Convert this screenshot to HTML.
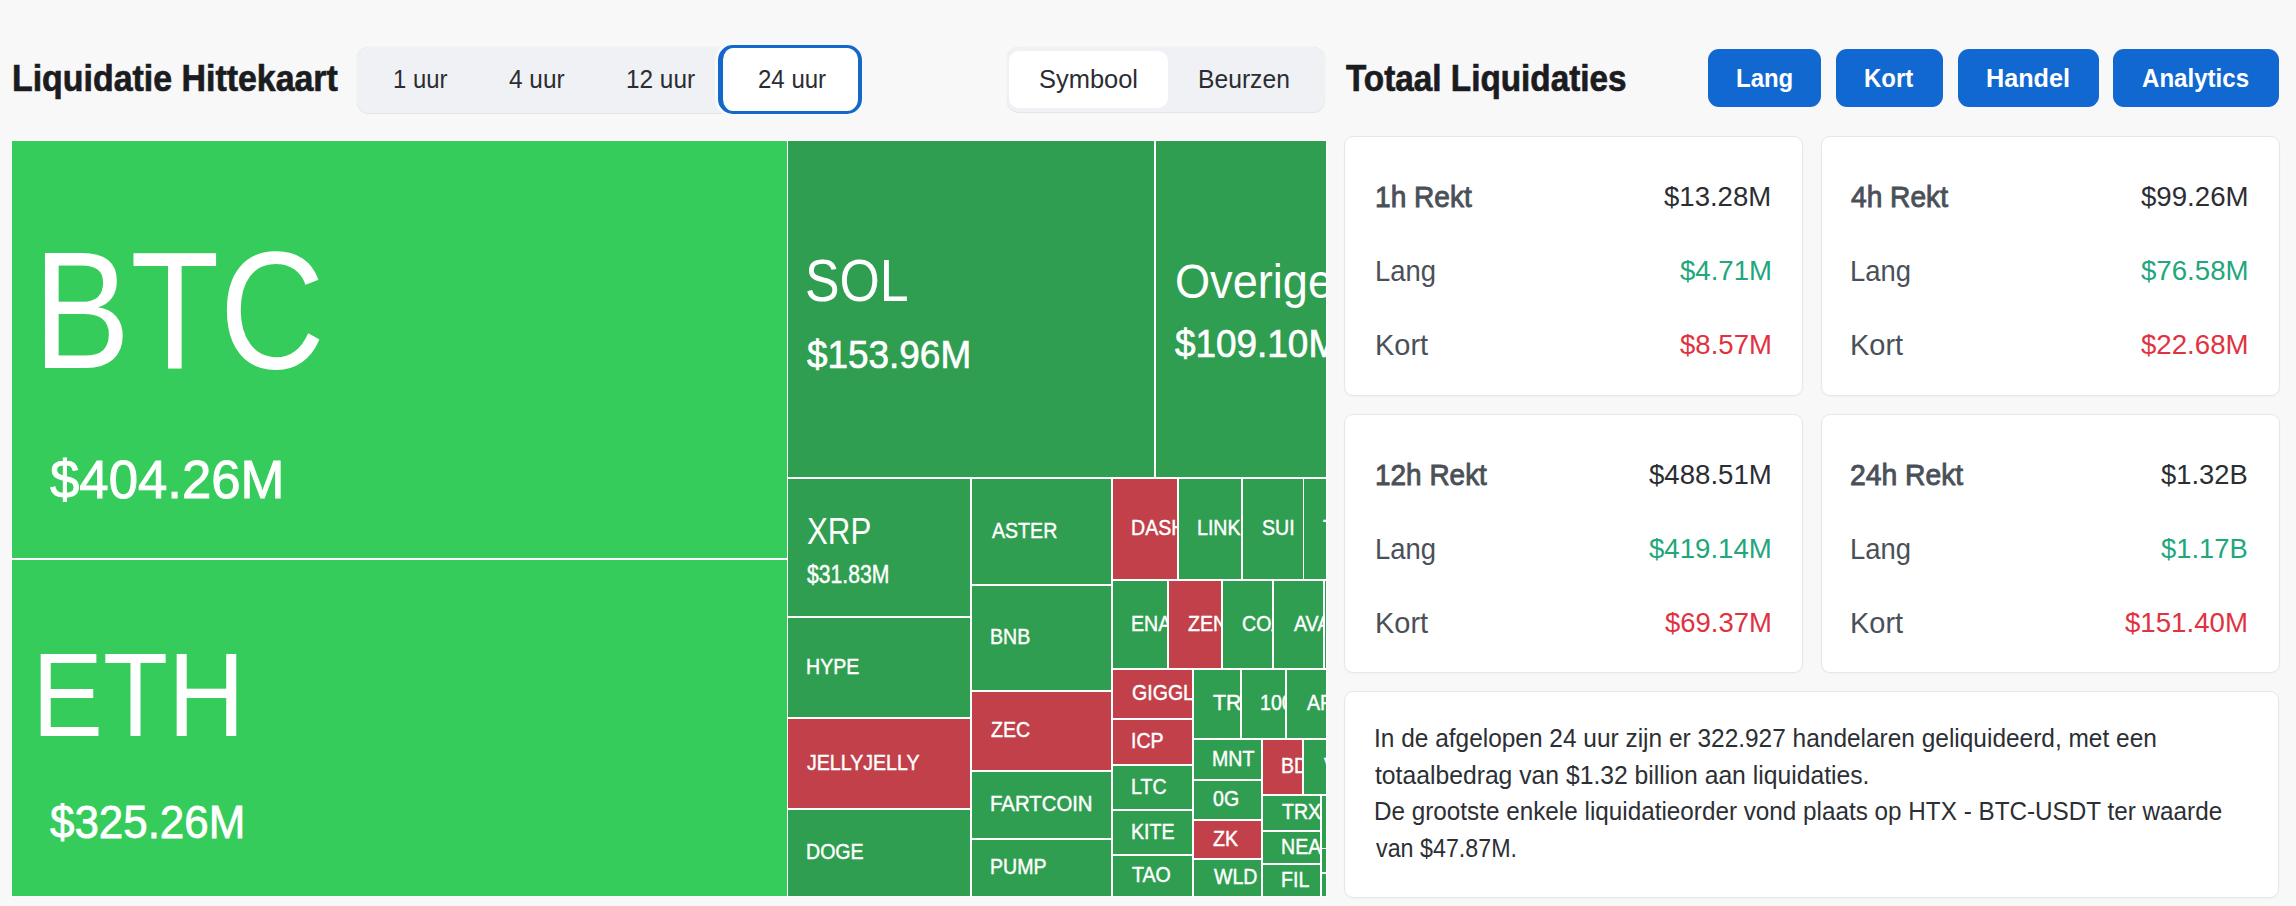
<!DOCTYPE html>
<html lang="nl">
<head>
<meta charset="utf-8">
<title>Liquidatie Hittekaart</title>
<style>
html,body{margin:0;padding:0}
body{width:2296px;height:906px;overflow:hidden;background:#f8f8f9;position:relative;font-family:'Liberation Sans',Arial,sans-serif}
.t{position:absolute;white-space:nowrap;line-height:1;transform-origin:0 0}
.seg{position:absolute;background:#f0f1f5;border-radius:12px;box-shadow:0 1px 0 #e3e4e7,0 0 1px rgba(0,0,0,.14)}
.tab-active{position:absolute;box-sizing:border-box;border:solid #1468c9;border-width:3px 4px 3px 5px;border-radius:15px;background:#fff;box-shadow:0 0 0 3px #f8f9fb}
.seg-on{position:absolute;background:#fff;border-radius:10px}
.btn{position:absolute;background:#1068d0;border-radius:11px}
.tm{position:absolute;left:11px;top:140px;width:1316px;height:757px;background:#fff}
.c{position:absolute;overflow:hidden}
.card{position:absolute;box-sizing:border-box;background:#fff;border:1px solid #e6e7ea;border-radius:9px;box-shadow:0 1px 2px rgba(0,0,0,.03)}
.h{margin:0;font-size:inherit;font-weight:inherit}
</style>
</head>
<body>
<!-- left header -->
<header class="hdr-left">
<h1 class="h"><span class="t" style="left:11.60px;top:60.41px;font-size:37.5px;font-weight:700;color:#1b1c1f;transform:scaleX(0.9039);-webkit-text-stroke:0.7px #1b1c1f;">Liquidatie Hittekaart</span></h1>
<div class="seg" style="left:357px;top:47px;width:505px;height:66px"><span class="t" style="left:35.70px;top:18.96px;font-size:26.5px;font-weight:400;color:#2a2d33;transform:scaleX(0.9000);">1 uur</span><span class="t" style="left:152.10px;top:18.96px;font-size:26.5px;font-weight:400;color:#2a2d33;transform:scaleX(0.9197);">4 uur</span><span class="t" style="left:269.08px;top:18.96px;font-size:26.5px;font-weight:400;color:#2a2d33;transform:scaleX(0.9187);">12 uur</span>
<div class="tab-active" style="left:361px;top:-2px;width:144px;height:69px"><span class="t" style="left:34.60px;top:17.96px;font-size:26.5px;font-weight:400;color:#2a2d33;transform:scaleX(0.9066);">24 uur</span></div>
</div>
<div class="seg" style="left:1007px;top:47px;width:318px;height:65px">
<div class="seg-on" style="left:2px;top:4px;width:159px;height:57px"><span class="t" style="left:30.24px;top:14.96px;font-size:26.5px;font-weight:400;color:#2a2d33;transform:scaleX(0.9604);">Symbool</span></div><span class="t" style="left:191.47px;top:18.96px;font-size:26.5px;font-weight:400;color:#2a2d33;transform:scaleX(0.9309);">Beurzen</span>
</div>
</header>
<!-- right header -->
<header class="hdr-right">
<h2 class="h"><span class="t" style="left:1346.09px;top:59.71px;font-size:37.5px;font-weight:700;color:#1b1c1f;transform:scaleX(0.8880);-webkit-text-stroke:0.7px #1b1c1f;">Totaal Liquidaties</span></h2>
<div class="btn" style="left:1708px;top:49px;width:113px;height:58px"><span class="t" style="left:27.98px;top:15.60px;font-size:26px;font-weight:700;color:#ffffff;transform:scaleX(0.9217);">Lang</span></div>
<div class="btn" style="left:1836px;top:49px;width:107px;height:58px"><span class="t" style="left:28.18px;top:15.60px;font-size:26px;font-weight:700;color:#ffffff;transform:scaleX(0.9226);">Kort</span></div>
<div class="btn" style="left:1958px;top:49px;width:141px;height:58px"><span class="t" style="left:28.23px;top:15.60px;font-size:26px;font-weight:700;color:#ffffff;transform:scaleX(0.9694);">Handel</span></div>
<div class="btn" style="left:2113px;top:49px;width:166px;height:58px"><span class="t" style="left:29.00px;top:15.60px;font-size:26px;font-weight:700;color:#ffffff;transform:scaleX(0.9259);">Analytics</span></div>
</header>
<!-- treemap -->
<div class="tm">
<div class="c" style="left:1px;top:1px;width:775px;height:417px;background:#35cc5b"><span class="t" style="left:20.64px;top:86.04px;font-size:167px;font-weight:400;color:#fff;transform:scaleX(0.8737);">BTC</span><span class="t" style="left:38.40px;top:310.87px;font-size:54px;font-weight:400;color:#fff;transform:scaleX(0.9763);-webkit-text-stroke:0.97px #fff;">$404.26M</span></div>
<div class="c" style="left:1px;top:420px;width:775px;height:336px;background:#35cc5b"><span class="t" style="left:19.85px;top:74.87px;font-size:119px;font-weight:400;color:#fff;transform:scaleX(0.8945);">ETH</span><span class="t" style="left:37.70px;top:238.86px;font-size:46px;font-weight:400;color:#fff;transform:scaleX(0.9545);-webkit-text-stroke:0.83px #fff;">$325.26M</span></div>
<div class="c" style="left:777px;top:1px;width:366px;height:336px;background:#2f9e50"><span class="t" style="left:17.27px;top:109.77px;font-size:60px;font-weight:400;color:#fff;transform:scaleX(0.8632);">SOL</span><span class="t" style="left:19.00px;top:194.36px;font-size:39px;font-weight:400;color:#fff;transform:scaleX(0.9462);-webkit-text-stroke:0.70px #fff;">$153.96M</span></div>
<div class="c" style="left:1145px;top:1px;width:170px;height:336px;background:#2f9e50"><span class="t" style="left:18.66px;top:116.66px;font-size:48px;font-weight:400;color:#fff;transform:scaleX(0.9400);">Overige</span><span class="t" style="left:19.20px;top:183.26px;font-size:39px;font-weight:400;color:#fff;transform:scaleX(0.9462);-webkit-text-stroke:0.70px #fff;">$109.10M</span></div>
<div class="c" style="left:777px;top:339px;width:182px;height:137px;background:#2f9e50"><span class="t" style="left:18.70px;top:35.26px;font-size:36px;font-weight:400;color:#fff;transform:scaleX(0.8685);">XRP</span><span class="t" style="left:18.70px;top:82.86px;font-size:25px;font-weight:400;color:#fff;transform:scaleX(0.8458);-webkit-text-stroke:0.45px #fff;">$31.83M</span></div>
<div class="c" style="left:777px;top:478px;width:182px;height:99px;background:#2f9e50"><span class="t" style="left:17.93px;top:37.86px;font-size:22.5px;font-weight:400;color:#fff;transform:scaleX(0.8700);-webkit-text-stroke:0.45px #fff;">HYPE</span></div>
<div class="c" style="left:777px;top:579px;width:182px;height:89px;background:#c1404a"><span class="t" style="left:18.80px;top:32.86px;font-size:22.5px;font-weight:400;color:#fff;transform:scaleX(0.8700);-webkit-text-stroke:0.45px #fff;">JELLYJELLY</span></div>
<div class="c" style="left:777px;top:670px;width:182px;height:86px;background:#2f9e50"><span class="t" style="left:17.93px;top:31.36px;font-size:22.5px;font-weight:400;color:#fff;transform:scaleX(0.8700);-webkit-text-stroke:0.45px #fff;">DOGE</span></div>
<div class="c" style="left:961px;top:339px;width:139px;height:105px;background:#2f9e50"><span class="t" style="left:19.67px;top:40.86px;font-size:22.5px;font-weight:400;color:#fff;transform:scaleX(0.8700);-webkit-text-stroke:0.45px #fff;">ASTER</span></div>
<div class="c" style="left:961px;top:446px;width:139px;height:104px;background:#2f9e50"><span class="t" style="left:17.93px;top:40.36px;font-size:22.5px;font-weight:400;color:#fff;transform:scaleX(0.8700);-webkit-text-stroke:0.45px #fff;">BNB</span></div>
<div class="c" style="left:961px;top:552px;width:139px;height:78px;background:#c1404a"><span class="t" style="left:18.80px;top:27.36px;font-size:22.5px;font-weight:400;color:#fff;transform:scaleX(0.8700);-webkit-text-stroke:0.45px #fff;">ZEC</span></div>
<div class="c" style="left:961px;top:632px;width:139px;height:66px;background:#2f9e50"><span class="t" style="left:17.89px;top:21.36px;font-size:22.5px;font-weight:400;color:#fff;transform:scaleX(0.9050);-webkit-text-stroke:0.45px #fff;">FARTCOIN</span></div>
<div class="c" style="left:961px;top:700px;width:139px;height:56px;background:#2f9e50"><span class="t" style="left:17.93px;top:16.36px;font-size:22.5px;font-weight:400;color:#fff;transform:scaleX(0.8700);-webkit-text-stroke:0.45px #fff;">PUMP</span></div>
<div class="c" style="left:1102px;top:339px;width:64px;height:100px;background:#c1404a"><span class="t" style="left:17.93px;top:38.36px;font-size:22.5px;font-weight:400;color:#fff;transform:scaleX(0.8700);-webkit-text-stroke:0.45px #fff;">DASH</span></div>
<div class="c" style="left:1168px;top:339px;width:62px;height:100px;background:#2f9e50"><span class="t" style="left:17.93px;top:38.36px;font-size:22.5px;font-weight:400;color:#fff;transform:scaleX(0.8700);-webkit-text-stroke:0.45px #fff;">LINK</span></div>
<div class="c" style="left:1232px;top:339px;width:60px;height:100px;background:#2f9e50"><span class="t" style="left:18.80px;top:38.36px;font-size:22.5px;font-weight:400;color:#fff;transform:scaleX(0.8700);-webkit-text-stroke:0.45px #fff;">SUI</span></div>
<div class="c" style="left:1293px;top:339px;width:22px;height:100px;background:#2f9e50"><span class="t" style="left:18.80px;top:38.36px;font-size:22.5px;font-weight:400;color:#fff;transform:scaleX(0.8700);-webkit-text-stroke:0.45px #fff;">TIA</span></div>
<div class="c" style="left:1102px;top:441px;width:54px;height:87px;background:#2f9e50"><span class="t" style="left:17.93px;top:31.86px;font-size:22.5px;font-weight:400;color:#fff;transform:scaleX(0.8700);-webkit-text-stroke:0.45px #fff;">ENA</span></div>
<div class="c" style="left:1158px;top:441px;width:52px;height:87px;background:#c1404a"><span class="t" style="left:18.80px;top:31.86px;font-size:22.5px;font-weight:400;color:#fff;transform:scaleX(0.8700);-webkit-text-stroke:0.45px #fff;">ZEN</span></div>
<div class="c" style="left:1212px;top:441px;width:49px;height:87px;background:#2f9e50"><span class="t" style="left:18.80px;top:31.86px;font-size:22.5px;font-weight:400;color:#fff;transform:scaleX(0.8700);-webkit-text-stroke:0.45px #fff;">COAI</span></div>
<div class="c" style="left:1263px;top:441px;width:49px;height:87px;background:#2f9e50"><span class="t" style="left:19.67px;top:31.86px;font-size:22.5px;font-weight:400;color:#fff;transform:scaleX(0.8700);-webkit-text-stroke:0.45px #fff;">AVAX</span></div>
<div class="c" style="left:1314px;top:441px;width:1px;height:87px;background:#2f9e50"></div>
<div class="c" style="left:1102px;top:530px;width:79px;height:48px;background:#c1404a"><span class="t" style="left:18.80px;top:12.36px;font-size:22.5px;font-weight:400;color:#fff;transform:scaleX(0.8700);-webkit-text-stroke:0.45px #fff;">GIGGLE</span></div>
<div class="c" style="left:1102px;top:580px;width:79px;height:44px;background:#c1404a"><span class="t" style="left:17.93px;top:10.36px;font-size:22.5px;font-weight:400;color:#fff;transform:scaleX(0.8700);-webkit-text-stroke:0.45px #fff;">ICP</span></div>
<div class="c" style="left:1102px;top:626px;width:79px;height:43px;background:#2f9e50"><span class="t" style="left:17.93px;top:9.86px;font-size:22.5px;font-weight:400;color:#fff;transform:scaleX(0.8700);-webkit-text-stroke:0.45px #fff;">LTC</span></div>
<div class="c" style="left:1102px;top:671px;width:79px;height:43px;background:#2f9e50"><span class="t" style="left:17.93px;top:9.86px;font-size:22.5px;font-weight:400;color:#fff;transform:scaleX(0.8700);-webkit-text-stroke:0.45px #fff;">KITE</span></div>
<div class="c" style="left:1102px;top:716px;width:79px;height:40px;background:#2f9e50"><span class="t" style="left:18.80px;top:8.36px;font-size:22.5px;font-weight:400;color:#fff;transform:scaleX(0.8700);-webkit-text-stroke:0.45px #fff;">TAO</span></div>
<div class="c" style="left:1183px;top:530px;width:46px;height:68px;background:#2f9e50"><span class="t" style="left:18.80px;top:22.36px;font-size:22.5px;font-weight:400;color:#fff;transform:scaleX(0.9500);-webkit-text-stroke:0.45px #fff;">TRUMP</span></div>
<div class="c" style="left:1231px;top:530px;width:43px;height:68px;background:#2f9e50"><span class="t" style="left:17.93px;top:22.36px;font-size:22.5px;font-weight:400;color:#fff;transform:scaleX(0.8700);-webkit-text-stroke:0.45px #fff;">1000PEPE</span></div>
<div class="c" style="left:1276px;top:530px;width:39px;height:68px;background:#2f9e50"><span class="t" style="left:19.67px;top:22.36px;font-size:22.5px;font-weight:400;color:#fff;transform:scaleX(0.8700);-webkit-text-stroke:0.45px #fff;">APT</span></div>
<div class="c" style="left:1183px;top:600px;width:67px;height:39px;background:#2f9e50"><span class="t" style="left:17.93px;top:7.86px;font-size:22.5px;font-weight:400;color:#fff;transform:scaleX(0.8700);-webkit-text-stroke:0.45px #fff;">MNT</span></div>
<div class="c" style="left:1183px;top:641px;width:67px;height:38px;background:#2f9e50"><span class="t" style="left:18.80px;top:7.36px;font-size:22.5px;font-weight:400;color:#fff;transform:scaleX(0.8700);-webkit-text-stroke:0.45px #fff;">0G</span></div>
<div class="c" style="left:1183px;top:681px;width:67px;height:37px;background:#c1404a"><span class="t" style="left:18.80px;top:6.86px;font-size:22.5px;font-weight:400;color:#fff;transform:scaleX(0.8700);-webkit-text-stroke:0.45px #fff;">ZK</span></div>
<div class="c" style="left:1183px;top:720px;width:67px;height:36px;background:#2f9e50"><span class="t" style="left:19.67px;top:6.36px;font-size:22.5px;font-weight:400;color:#fff;transform:scaleX(0.8700);-webkit-text-stroke:0.45px #fff;">WLD</span></div>
<div class="c" style="left:1252px;top:600px;width:39px;height:54px;background:#c1404a"><span class="t" style="left:17.93px;top:15.36px;font-size:22.5px;font-weight:400;color:#fff;transform:scaleX(0.8700);-webkit-text-stroke:0.45px #fff;">BDXN</span></div>
<div class="c" style="left:1293px;top:600px;width:22px;height:54px;background:#2f9e50"><span class="t" style="left:19.67px;top:15.36px;font-size:22.5px;font-weight:400;color:#fff;transform:scaleX(0.8700);-webkit-text-stroke:0.45px #fff;">VIRTUAL</span></div>
<div class="c" style="left:1252px;top:656px;width:57px;height:34px;background:#2f9e50"><span class="t" style="left:18.80px;top:5.36px;font-size:22.5px;font-weight:400;color:#fff;transform:scaleX(0.8700);-webkit-text-stroke:0.45px #fff;">TRX</span></div>
<div class="c" style="left:1252px;top:692px;width:57px;height:31px;background:#2f9e50"><span class="t" style="left:17.93px;top:3.86px;font-size:22.5px;font-weight:400;color:#fff;transform:scaleX(0.8700);-webkit-text-stroke:0.45px #fff;">NEAR</span></div>
<div class="c" style="left:1252px;top:725px;width:57px;height:31px;background:#2f9e50"><span class="t" style="left:17.93px;top:3.86px;font-size:22.5px;font-weight:400;color:#fff;transform:scaleX(0.8700);-webkit-text-stroke:0.45px #fff;">FIL</span></div>
<div class="c" style="left:1311px;top:656px;width:4px;height:52px;background:#2f9e50"></div>
<div class="c" style="left:1311px;top:709px;width:4px;height:23px;background:#2f9e50"></div>
<div class="c" style="left:1311px;top:734px;width:4px;height:22px;background:#2f9e50"></div>
</div>
<!-- cards -->
<div class="card" style="left:1344px;top:136px;width:459px;height:260px"><span class="t" style="left:30.05px;top:44.86px;font-size:29.5px;font-weight:400;color:#4a5058;transform:scaleX(0.9525);-webkit-text-stroke:0.9px #4a5058;">1h Rekt</span><span class="t" style="left:30.07px;top:118.66px;font-size:29.5px;font-weight:400;color:#4a5058;transform:scaleX(0.9297);">Lang</span><span class="t" style="left:30.02px;top:192.86px;font-size:29.5px;font-weight:400;color:#4a5058;transform:scaleX(0.9815);">Kort</span><span class="t" style="left:319.30px;top:45.26px;font-size:28.5px;font-weight:400;color:#2b2e33;transform:scaleX(0.9664);">$13.28M</span><span class="t" style="left:334.70px;top:119.16px;font-size:28.5px;font-weight:400;color:#22a67c;transform:scaleX(0.9670);">$4.71M</span><span class="t" style="left:334.70px;top:193.06px;font-size:28.5px;font-weight:400;color:#e0323f;transform:scaleX(0.9670);">$8.57M</span></div>
<div class="card" style="left:1821px;top:136px;width:459px;height:260px"><span class="t" style="left:29.30px;top:44.86px;font-size:29.5px;font-weight:400;color:#4a5058;transform:scaleX(0.9539);-webkit-text-stroke:0.9px #4a5058;">4h Rekt</span><span class="t" style="left:28.37px;top:118.66px;font-size:29.5px;font-weight:400;color:#4a5058;transform:scaleX(0.9297);">Lang</span><span class="t" style="left:28.32px;top:192.86px;font-size:29.5px;font-weight:400;color:#4a5058;transform:scaleX(0.9815);">Kort</span><span class="t" style="left:318.60px;top:45.26px;font-size:28.5px;font-weight:400;color:#2b2e33;transform:scaleX(0.9700);">$99.26M</span><span class="t" style="left:318.60px;top:119.16px;font-size:28.5px;font-weight:400;color:#22a67c;transform:scaleX(0.9700);">$76.58M</span><span class="t" style="left:318.60px;top:193.06px;font-size:28.5px;font-weight:400;color:#e0323f;transform:scaleX(0.9700);">$22.68M</span></div>
<div class="card" style="left:1344px;top:414px;width:459px;height:259px"><span class="t" style="left:30.05px;top:44.76px;font-size:29.5px;font-weight:400;color:#4a5058;transform:scaleX(0.9475);-webkit-text-stroke:0.9px #4a5058;">12h Rekt</span><span class="t" style="left:30.07px;top:118.56px;font-size:29.5px;font-weight:400;color:#4a5058;transform:scaleX(0.9297);">Lang</span><span class="t" style="left:30.02px;top:192.76px;font-size:29.5px;font-weight:400;color:#4a5058;transform:scaleX(0.9815);">Kort</span><span class="t" style="left:303.50px;top:45.16px;font-size:28.5px;font-weight:400;color:#2b2e33;transform:scaleX(0.9690);">$488.51M</span><span class="t" style="left:303.50px;top:119.06px;font-size:28.5px;font-weight:400;color:#22a67c;transform:scaleX(0.9690);">$419.14M</span><span class="t" style="left:319.50px;top:192.96px;font-size:28.5px;font-weight:400;color:#e0323f;transform:scaleX(0.9645);">$69.37M</span></div>
<div class="card" style="left:1821px;top:414px;width:459px;height:259px"><span class="t" style="left:28.34px;top:44.76px;font-size:29.5px;font-weight:400;color:#4a5058;transform:scaleX(0.9585);-webkit-text-stroke:0.9px #4a5058;">24h Rekt</span><span class="t" style="left:28.37px;top:118.56px;font-size:29.5px;font-weight:400;color:#4a5058;transform:scaleX(0.9297);">Lang</span><span class="t" style="left:28.32px;top:192.76px;font-size:29.5px;font-weight:400;color:#4a5058;transform:scaleX(0.9815);">Kort</span><span class="t" style="left:338.90px;top:45.16px;font-size:28.5px;font-weight:400;color:#2b2e33;transform:scaleX(0.9600);">$1.32B</span><span class="t" style="left:338.90px;top:119.06px;font-size:28.5px;font-weight:400;color:#22a67c;transform:scaleX(0.9600);">$1.17B</span><span class="t" style="left:303.10px;top:192.96px;font-size:28.5px;font-weight:400;color:#e0323f;transform:scaleX(0.9698);">$151.40M</span></div>
<div class="card" style="left:1344px;top:691px;width:935px;height:207px"><span class="t" style="left:29.42px;top:34.36px;font-size:25px;font-weight:400;color:#2c2f34;transform:scaleX(0.9778);">In de afgelopen 24 uur zijn er 322.927 handelaren geliquideerd, met een</span><span class="t" style="left:30.40px;top:71.16px;font-size:25px;font-weight:400;color:#2c2f34;transform:scaleX(0.9882);">totaalbedrag van $1.32 billion aan liquidaties.</span><span class="t" style="left:29.43px;top:107.36px;font-size:25px;font-weight:400;color:#2c2f34;transform:scaleX(0.9709);">De grootste enkele liquidatieorder vond plaats op HTX - BTC-USDT ter waarde</span><span class="t" style="left:31.33px;top:143.86px;font-size:25px;font-weight:400;color:#2c2f34;transform:scaleX(0.9311);">van $47.87M.</span></div>
</body>
</html>
